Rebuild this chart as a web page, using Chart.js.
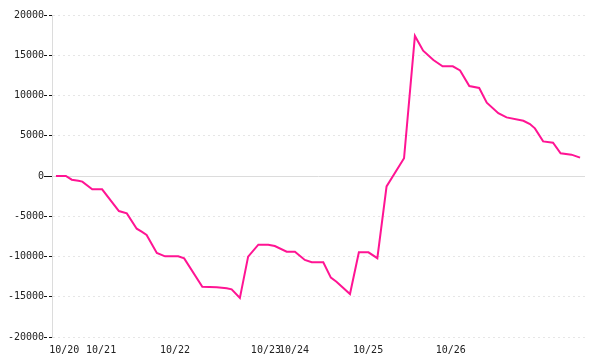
<!DOCTYPE html>
<html>
<head>
<meta charset="utf-8">
<script src="https://cdn.jsdelivr.net/npm/chart.js@4/dist/chart.umd.min.js"></script>
<style>
html, body { margin: 0; padding: 0; background: #fff; }
</style>
</head>
<body>
<canvas id="grafik" width="600" height="360"></canvas>
<script>
// observation index (x) and value (y) at each vertex of the line
var posisi = [0, 3.0, 4.8, 6.8, 8.0, 11.0, 14.0, 19.1, 21.5, 24.5, 26.0, 27.5, 30.6, 33.1, 37.1, 38.9,
  44.4, 48.8, 51.8, 53.3, 55.8, 58.3, 61.4, 64.4, 66.4, 70.0, 72.5, 75.5, 77.6, 81.1, 83.4, 85.1,
  89.2, 91.9, 94.8, 97.5, 100.3, 105.6, 108.9, 111.4, 114.5, 117.3, 120.4, 122.6, 125.4, 128.4,
  130.7, 134.2, 136.7, 141.8, 143.8, 145.3, 147.8, 150.8, 153.1, 156.4, 159.0];
var nilai = [0, 0, -460, -580, -700, -1650, -1650, -4350, -4640, -6550, -6920, -7330, -9560, -9980, -9980, -10230,
  -13750, -13830, -13950, -14080, -15150, -10020, -8530, -8530, -8700, -9400, -9400, -10430, -10720, -10720, -12630, -13130,
  -14660, -9480, -9480, -10210, -1300, 2200, 17400, 15560, 14410, 13620, 13620, 13120, 11170, 10930,
  9110, 7800, 7280, 6860, 6460, 5920, 4300, 4140, 2820, 2650, 2280];

// day labels on the x axis
var posisiHari = [2.5, 13.7, 36.1, 63.7, 72.2, 94.7, 119.8];
var labelHari = ['10/20', '10/21', '10/22', '10/23', '10/24', '10/25', '10/26'];

var titik = posisi.map(function (x, i) { return { x: x, y: nilai[i] }; });

// solid line at zero
var garisNol = {
  id: 'garisNol',
  beforeDatasetsDraw: function (chart) {
    var y = Math.round(chart.scales.y.getPixelForValue(0)) + 0.5;
    var area = chart.chartArea;
    var ctx = chart.ctx;
    ctx.save();
    ctx.strokeStyle = '#dcdcdc';
    ctx.lineWidth = 1;
    ctx.beginPath();
    ctx.moveTo(area.left, y);
    ctx.lineTo(area.right, y);
    ctx.stroke();
    ctx.restore();
  }
};

var grafik = new Chart(document.getElementById('grafik'), {
  type: 'line',
  data: {
    datasets: [{
      data: titik,
      borderColor: '#ff1493',
      borderWidth: 2,
      pointRadius: 0,
      tension: 0,
      fill: false
    }]
  },
  plugins: [garisNol],
  options: {
    responsive: false,
    animation: false,
    layout: { padding: { top: 15, right: 15, left: 0, bottom: 0 } },
    plugins: {
      legend: { display: false },
      tooltip: { enabled: false }
    },
    scales: {
      x: {
        type: 'linear',
        min: -1.2,
        max: 160.5,
        grid: { display: false, drawTicks: false },
        border: { display: false },
        afterBuildTicks: function (scale) {
          scale.ticks = posisiHari.map(function (v) { return { value: v }; });
        },
        afterFit: function (scale) { scale.height = 23; },
        ticks: {
          autoSkip: false,
          maxRotation: 0,
          padding: 7,
          color: '#222',
          font: { family: 'DejaVu Sans Mono', size: 10 },
          callback: function (v, i) { return labelHari[i]; }
        }
      },
      y: {
        min: -20000,
        max: 20000,
        afterFit: function (scale) { scale.width = 52; },
        grid: {
          color: function (c) { return c.tick.value === 0 ? 'rgba(0,0,0,0)' : '#e6e6e6'; },
          tickColor: '#111',
          tickLength: 8,
          tickBorderDash: function (c) { return c.tick.value === 0 ? [] : [3, 2]; }
        },
        border: { display: true, color: '#dcdcdc', dash: [2, 3] },
        ticks: {
          stepSize: 5000,
          padding: 0,
          color: '#222',
          font: { family: 'DejaVu Sans Mono', size: 10 },
          callback: function (v) { return String(v); }
        }
      }
    }
  }
});
</script>
</body>
</html>
